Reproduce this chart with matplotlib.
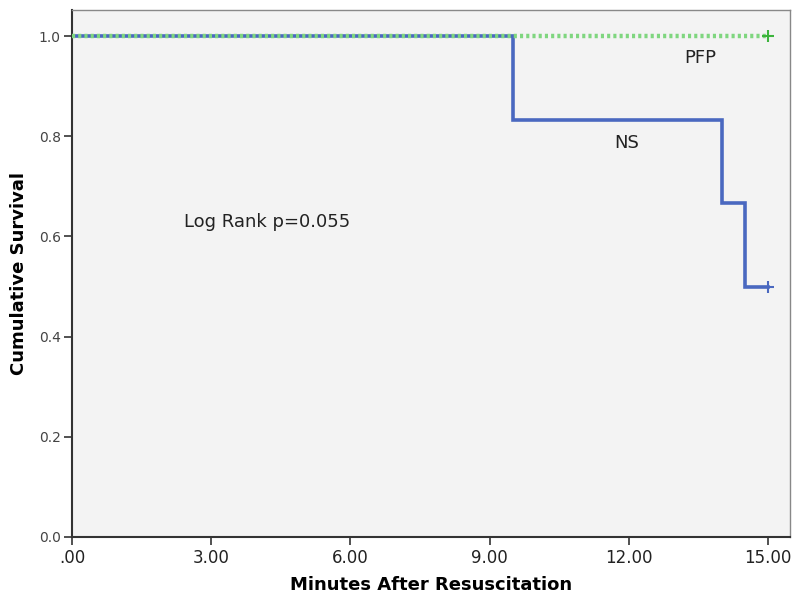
import matplotlib
matplotlib.use("Agg")
import matplotlib.pyplot as plt

# Kaplan-Meier step data
ns_times = [0.0, 9.5, 14.0, 14.5, 15.0]
ns_surv = [1.0, 0.833, 0.667, 0.5, 0.5]
pfp_times = [0.0, 15.0]
pfp_surv = [1.0, 1.0]
x_ticks = [0, 3, 6, 9, 12, 15]
x_ticklabels = [".00", "3.00", "6.00", "9.00", "12.00", "15.00"]
y_ticks = [0.0, 0.2, 0.4, 0.6, 0.8, 1.0]

blue = "#4a68c0"
green = "#7fd67f"

fig = plt.figure(figsize=(8, 6.06), dpi=100)
ax = fig.add_axes([0.09, 0.1139, 0.8975, 0.8696])
ax.set_facecolor("#f3f3f3")

ax.step(ns_times, ns_surv, where="post", color=blue, lw=2.6, solid_joinstyle="miter", zorder=3)
ax.plot(pfp_times, pfp_surv, color=green, lw=3.2, ls=(0, (0.7, 0.7)), zorder=4)
ax.plot([ns_times[-1]], [ns_surv[-1]], marker="+", color=blue, ms=8, mew=1.5, zorder=5)
ax.plot([pfp_times[-1]], [pfp_surv[-1]], marker="+", color="#3cb43c", ms=8, mew=1.5, zorder=5)

ax.set_xlim(0, 15.47)
ax.set_ylim(0, 1.052)
ax.set_xticks(x_ticks)
ax.set_xticklabels(x_ticklabels, fontsize=12, color="#222222")
ax.set_yticks(y_ticks)
ax.set_yticklabels([f"{v:.1f}" for v in y_ticks], fontsize=10, color="#444444")
ax.tick_params(axis="both", direction="out", length=6, width=1.2, color="#333333")
ax.tick_params(axis="x", pad=3)
ax.tick_params(axis="y", pad=2)

for s in ["left", "bottom"]:
    ax.spines[s].set_color("#333333")
    ax.spines[s].set_linewidth(1.5)
for s in ["top", "right"]:
    ax.spines[s].set_color("#888888")
    ax.spines[s].set_linewidth(1.0)

ax.set_xlabel("Minutes After Resuscitation", fontsize=13, fontweight="bold", labelpad=6)
ax.set_ylabel("Cumulative Survival", fontsize=13, fontweight="bold", labelpad=8)

ax.text(2.41, 0.629, "Log Rank p=0.055", fontsize=13, ha="left", va="center", color="#222222")
ax.text(11.96, 0.786, "NS", fontsize=13, ha="center", va="center", color="#222222")
ax.text(13.53, 0.956, "PFP", fontsize=13, ha="center", va="center", color="#222222")

fig.savefig("out.png", dpi=100)
